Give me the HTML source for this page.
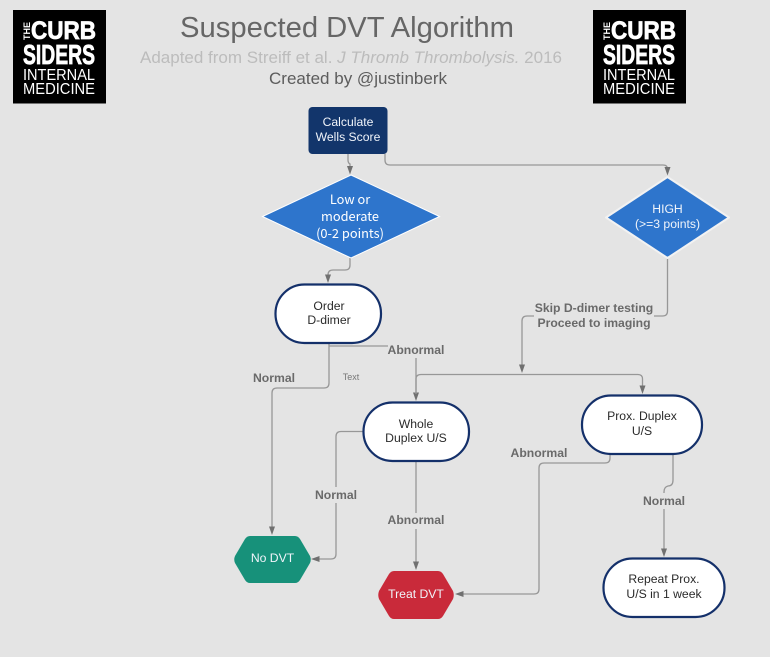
<!DOCTYPE html>
<html><head><meta charset="utf-8"><style>
html,body{margin:0;padding:0;background:#e4e4e4}
svg{display:block;filter:blur(.35px)}
text{font-family:"Liberation Sans",sans-serif}
.c{fill:none;stroke:#979797;stroke-width:1.3}
.a{fill:#707070}
.n{fill:#fff;stroke:#14306a;stroke-width:2.2}
.d{font-size:12.2px;fill:#2a2a2a;text-anchor:middle}
.w{font-size:12.2px;fill:#f0f4fa;text-anchor:middle}
.l{font-size:12.200px;font-weight:bold;fill:#6a6a6a;text-anchor:middle}
.lt{fill:#fff;font-weight:bold}
.ln{fill:#fff}
.cj{font-family:"Noto Sans CJK JP",sans-serif;font-size:12.800px;fill:#fff;text-anchor:middle}
</style></head><body>
<svg width="770" height="657" viewBox="0 0 770 657" xmlns="http://www.w3.org/2000/svg">
<rect width="770" height="657" fill="#e4e4e4"/>

<text x="347" y="37" font-size="29" fill="#666" text-anchor="middle" textLength="334" lengthAdjust="spacingAndGlyphs">Suspected DVT Algorithm</text>
<text x="351" y="63" font-size="17" fill="#bcbcbc" text-anchor="middle" textLength="422" lengthAdjust="spacingAndGlyphs">Adapted from Streiff et al. <tspan font-style="italic">J Thromb Thrombolysis.</tspan> 2016</text>
<text x="358" y="84" font-size="17" fill="#5c5c5c" text-anchor="middle" textLength="178" lengthAdjust="spacingAndGlyphs">Created by @justinberk</text>

<g>
<rect x="13" y="10" width="93" height="93.500" fill="#000"/>
<text transform="translate(30 40) rotate(-90)" font-size="9" class="lt" textLength="18" lengthAdjust="spacingAndGlyphs">THE</text>
<text x="31" y="39" font-size="25" class="lt" stroke="#fff" stroke-width=".8" textLength="65" lengthAdjust="spacingAndGlyphs">CURB</text>
<text x="23" y="64" font-size="28" class="lt" stroke="#fff" stroke-width=".8" textLength="72" lengthAdjust="spacingAndGlyphs">SIDERS</text>
<text x="23" y="80" font-size="15.500" class="ln" textLength="72" lengthAdjust="spacingAndGlyphs">INTERNAL</text>
<text x="23" y="94" font-size="15.500" class="ln" textLength="72" lengthAdjust="spacingAndGlyphs">MEDICINE</text>
</g>
<g>
<rect x="593" y="10" width="93" height="93.500" fill="#000"/>
<text transform="translate(610 40) rotate(-90)" font-size="9" class="lt" textLength="18" lengthAdjust="spacingAndGlyphs">THE</text>
<text x="611" y="39" font-size="25" class="lt" stroke="#fff" stroke-width=".8" textLength="65" lengthAdjust="spacingAndGlyphs">CURB</text>
<text x="603" y="64" font-size="28" class="lt" stroke="#fff" stroke-width=".8" textLength="72" lengthAdjust="spacingAndGlyphs">SIDERS</text>
<text x="603" y="80" font-size="15.500" class="ln" textLength="72" lengthAdjust="spacingAndGlyphs">INTERNAL</text>
<text x="603" y="94" font-size="15.500" class="ln" textLength="72" lengthAdjust="spacingAndGlyphs">MEDICINE</text>
</g>

<!-- connectors -->
<path class="c" d="M348 154V160Q348 163 350 164V168"/>
<path class="a" d="M347 166h6l-3 8.500z"/>
<path class="c" d="M385 154V160Q385 165 390 165H663Q667.500 165 667.500 169"/>
<path class="a" d="M664.500 167h6l-3 8.500z"/>
<path class="c" d="M350 258V265Q350 270 345 270H333Q328 270 328 275V276"/>
<path class="a" d="M325 274.500h6l-3 8.500z"/>
<path class="c" d="M329 343V383Q329 388 324 388H277Q272 388 272 393V528"/>
<path class="a" d="M269 526.500h6l-3 8.500z"/>
<path class="c" d="M329 346H388"/>
<path class="c" d="M416 358V394"/>
<path class="a" d="M413 392.500h6l-3 8.500z"/>
<path class="c" d="M667.500 258V311Q667.500 316 662.500 316H654M534 316H527Q522 316 522 321V366"/>
<path class="a" d="M519 364.500h6l-3 8.500z"/>
<path class="c" d="M416 394V379Q416 374.500 421 374.500H638Q642.500 374.500 642.500 379V386"/>
<path class="a" d="M639.500 385.500h6l-3 8.500z"/>
<path class="c" d="M363 431.500H341Q336 431.500 336 436.500V487M336 503V554Q336 559 331 559H318"/>
<path class="a" d="M319.500 556v6l-8.500-3z"/>
<path class="c" d="M416 461V513M416 529V563"/>
<path class="a" d="M413 561.500h6l-3 8.500z"/>
<path class="c" d="M610 454V458Q610 463 605 463H544Q539 463 539 468V589Q539 594 534 594H462"/>
<path class="a" d="M463.500 591v6l-8.500-3z"/>
<path class="c" d="M673 454V480Q673 486 668 486Q664 487 664 492V493M664 509V550"/>
<path class="a" d="M661 548.500h6l-3 8.500z"/>

<!-- nodes -->
<rect x="308.500" y="107" width="79" height="47" rx="4" fill="#12356b"/>
<text class="w" x="348" y="126">Calculate</text>
<text class="w" x="348" y="141">Wells Score</text>

<path d="M351 175L439.500 216.500L351 258L262.500 216.500Z" fill="#2e75cc" stroke="#fff" stroke-width="1"/>
<text class="cj" x="350" y="204">Low or</text>
<text class="cj" x="350" y="221">moderate</text>
<text class="cj" x="350" y="238">(0-2 points)</text>

<path d="M667.500 177L729 217.500L667.500 258L606 217.500Z" fill="#2e75cc" stroke="#f2f2f2" stroke-width="2" stroke-linejoin="round"/>
<text class="w" x="667.500" y="213">HIGH</text>
<text class="w" x="667.500" y="228">(&gt;=3 points)</text>

<rect class="n" x="275.500" y="284.500" width="105.500" height="58.500" rx="29"/>
<text class="d" x="329" y="310">Order</text>
<text class="d" x="329" y="324">D-dimer</text>

<rect class="n" x="363.500" y="402.500" width="105.500" height="58.500" rx="29"/>
<text class="d" x="416" y="428">Whole</text>
<text class="d" x="416" y="442">Duplex U/S</text>

<rect class="n" x="582" y="395.500" width="120" height="58.500" rx="29"/>
<text class="d" x="642" y="420">Prox. Duplex</text>
<text class="d" x="642" y="435">U/S</text>

<rect class="n" x="603.500" y="558.500" width="121" height="58.500" rx="29"/>
<text class="d" x="664" y="583">Repeat Prox.</text>
<text class="d" x="664" y="598">U/S in 1 week</text>

<path d="M250 536H295Q298 536 300 539L310 556Q311.500 559.500 310 563L300 580Q298 583 295 583H250Q247 583 245 580L235 563Q233.500 559.500 235 556L245 539Q247 536 250 536Z" fill="#17917a"/>
<text class="w" x="272.500" y="562">No DVT</text>

<path d="M394 571H438Q441 571 443 574L453 591Q454.500 595 453 599L443 616Q441 619 438 619H394Q391 619 389 616L379 599Q377.500 595 379 591L389 574Q391 571 394 571Z" fill="#c92a3a"/>
<text class="w" x="416" y="598">Treat DVT</text>

<!-- labels -->
<text class="l" x="416" y="354">Abnormal</text>
<text class="l" x="274" y="382">Normal</text>
<text x="351" y="380" font-size="9" fill="#777" text-anchor="middle">Text</text>
<text class="l" x="594" y="312">Skip D-dimer testing</text>
<text class="l" x="594" y="327">Proceed to imaging</text>
<text class="l" x="336" y="499">Normal</text>
<text class="l" x="416" y="524">Abnormal</text>
<text class="l" x="539" y="457">Abnormal</text>
<text class="l" x="664" y="505">Normal</text>
</svg>
</body></html>
